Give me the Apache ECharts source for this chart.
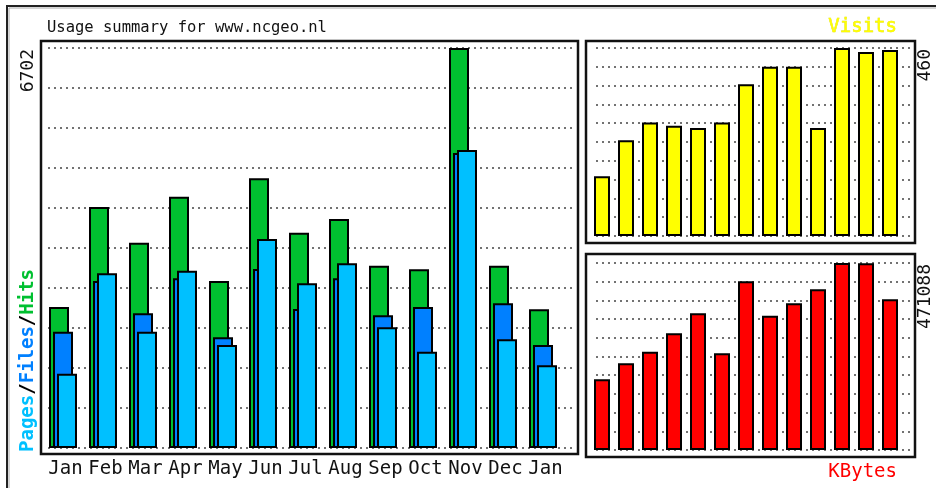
<!DOCTYPE html>
<html>
<head>
<meta charset="utf-8">
<script src="https://cdn.jsdelivr.net/npm/echarts@6/dist/echarts.min.js"></script>
<style>
html,body{margin:0;padding:0;background:#fff;}
#chart{width:936px;height:488px;}
</style>
</head>
<body>
<div id="chart"></div>
<script>
const months = ['Jan','Feb','Mar','Apr','May','Jun','Jul','Aug','Sep','Oct','Nov','Dec','Jan'];
const hits   = [2362, 4038, 3440, 4211, 2798, 4518, 3607, 3837, 3055, 2994, 6702, 3055, 2324];
const files  = [1949, 2798, 2257, 2843, 1854, 2999, 2329, 2843, 2223, 2362, 4943, 2424, 1726];
const pages  = [1245, 2927, 1949, 2971, 1726, 3502, 2759, 3094, 2022, 1614, 4993, 1821, 1386];
const visits = [146, 234, 278, 270, 264, 278, 371, 414, 414, 264, 460, 450, 455];
const kbytes = [178108, 218415, 247638, 293992, 344376, 243607, 424983, 338330, 369567, 404835, 471088, 470500, 379645];
const titleText = 'Usage summary for www.ncgeo.nl';

const hitsMax = Math.max(...hits);
const visitsMax = Math.max(...visits);
const kbytesMax = Math.max(...kbytes);

const MONO = 'DejaVu Sans Mono';
const dotted = { color: '#444', width: 1.6, type: [2, 4] };

function gridAxis(gi, max) {
  return { type: 'value', gridIndex: gi, min: 0, max: max, interval: max / 10,
    axisLine: { show: false }, axisTick: { show: false }, axisLabel: { show: false },
    splitLine: { show: true, lineStyle: dotted } };
}
function hiddenY(gi, max) { return { type: 'value', gridIndex: gi, min: 0, max: max, show: false, splitLine: { show: false } }; }
function hiddenX(gi) { return { type: 'value', gridIndex: gi, min: 0, max: 1, show: false }; }
function catX(gi, showLabels) {
  return { type: 'category', gridIndex: gi, data: months,
    axisLine: { show: false }, axisTick: { show: false },
    axisLabel: { show: showLabels, interval: 0, fontFamily: MONO, fontSize: 19, color: '#111', margin: 12, padding: [0, 0, 0, 5] },
    splitLine: { show: false } };
}
const border = { borderColor: '#000', borderWidth: 2 };

const option = {
  backgroundColor: '#fff',
  animation: false,
  grid: [
    { left: 43, top: 48, width: 520, height: 400 },
    { left: 48, top: 48, width: 527, height: 400 },
    { left: 590, top: 48, width: 312, height: 188 },
    { left: 596, top: 48, width: 314, height: 188 },
    { left: 590, top: 263, width: 312, height: 187 },
    { left: 596, top: 263, width: 314, height: 187 }
  ],
  xAxis: [catX(0, true), hiddenX(1), catX(2, false), hiddenX(3), catX(4, false), hiddenX(5)],
  yAxis: [hiddenY(0, hitsMax), gridAxis(1, hitsMax), hiddenY(2, visitsMax), gridAxis(3, visitsMax), hiddenY(4, kbytesMax), gridAxis(5, kbytesMax)],
  series: [
    { name: 'Hits', type: 'bar', xAxisIndex: 0, yAxisIndex: 0, data: hits, barWidth: 20, barGap: '-80%',
      itemStyle: Object.assign({ color: '#00c030' }, border) },
    { name: 'Files', type: 'bar', xAxisIndex: 0, yAxisIndex: 0, data: files, barWidth: 20, barGap: '-80%',
      itemStyle: Object.assign({ color: '#0080ff' }, border) },
    { name: 'Pages', type: 'bar', xAxisIndex: 0, yAxisIndex: 0, data: pages, barWidth: 20, barGap: '-80%',
      itemStyle: Object.assign({ color: '#00c0ff' }, border) },
    { name: 'Visits', type: 'bar', xAxisIndex: 2, yAxisIndex: 2, data: visits, barWidth: 16,
      itemStyle: Object.assign({ color: '#ffff00' }, border) },
    { name: 'KBytes', type: 'bar', xAxisIndex: 4, yAxisIndex: 4, data: kbytes, barWidth: 16,
      itemStyle: Object.assign({ color: '#ff0000' }, border) }
  ],
  graphic: [
    { type: 'rect', z: 100, shape: { x: 7, y: 6, width: 960, height: 520 }, style: { fill: null, stroke: '#222', lineWidth: 2 } },
    { type: 'rect', z: 100, shape: { x: 9, y: 8, width: 960, height: 520 }, style: { fill: null, stroke: '#aaa', lineWidth: 1 } },
    { type: 'rect', z: 100, shape: { x: 41, y: 41, width: 537, height: 413 }, style: { fill: null, stroke: '#111', lineWidth: 2.5 } },
    { type: 'rect', z: 100, shape: { x: 586, y: 41, width: 329, height: 202 }, style: { fill: null, stroke: '#111', lineWidth: 2.5 } },
    { type: 'rect', z: 100, shape: { x: 586, y: 254, width: 329, height: 203 }, style: { fill: null, stroke: '#111', lineWidth: 2.5 } },
    { type: 'text', z: 100, x: 47, y: 36, style: { text: titleText, font: '15.5px "' + MONO + '"', fill: '#111', align: 'left', verticalAlign: 'bottom' } },
    { type: 'text', z: 100, x: 897, y: 37, style: { text: 'Visits', font: '19px "' + MONO + '"', fill: '#ffff00', align: 'right', verticalAlign: 'bottom', stroke: '#d8d800', lineWidth: 0.5 } },
    { type: 'text', z: 100, x: 897, y: 482, style: { text: 'KBytes', font: '19px "' + MONO + '"', fill: '#ff0000', align: 'right', verticalAlign: 'bottom' } },
    { type: 'text', z: 100, x: 28, y: 49, rotation: Math.PI / 2, style: { text: String(hitsMax), font: '18px "' + MONO + '"', fill: '#111', align: 'right', verticalAlign: 'middle' } },
    { type: 'text', z: 100, x: 925, y: 49, rotation: Math.PI / 2, style: { text: String(visitsMax), font: '18px "' + MONO + '"', fill: '#111', align: 'right', verticalAlign: 'middle' } },
    { type: 'text', z: 100, x: 925, y: 264, rotation: Math.PI / 2, style: { text: String(kbytesMax), font: '18px "' + MONO + '"', fill: '#111', align: 'right', verticalAlign: 'middle' } },
    { type: 'text', z: 100, x: 28, y: 452, rotation: Math.PI / 2, style: {
        text: '{p|Pages}{s|/}{f|Files}{s|/}{h|Hits}', align: 'left', verticalAlign: 'middle',
        font: 'bold 19px "' + MONO + '"',
        rich: {
          p: { fill: '#00c0ff', font: 'bold 19px "' + MONO + '"' },
          s: { fill: '#000', font: 'bold 19px "' + MONO + '"' },
          f: { fill: '#0080ff', font: 'bold 19px "' + MONO + '"' },
          h: { fill: '#00c030', font: 'bold 19px "' + MONO + '"' }
        } } }
  ]
};

const chart = echarts.init(document.getElementById('chart'), null, { renderer: 'canvas' });
chart.setOption(option);
</script>
</body>
</html>
